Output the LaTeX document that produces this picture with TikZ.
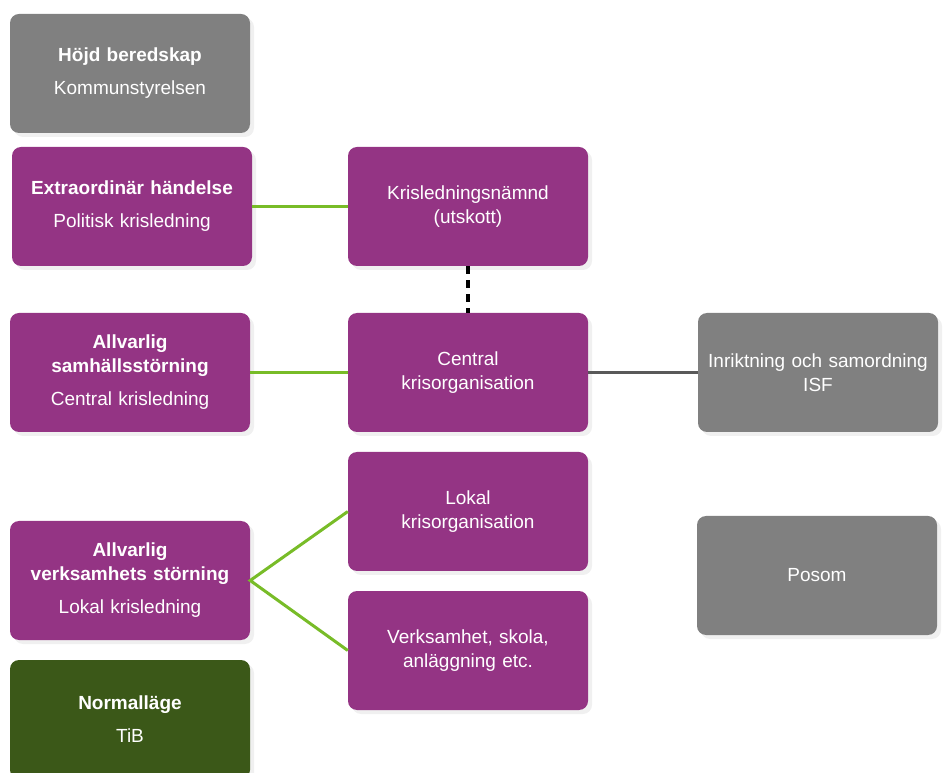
\documentclass[tikz,border=0pt]{standalone}
\usepackage{fontspec}
\setmainfont{Liberation Sans}
\usetikzlibrary{shadows}
\definecolor{lila}{RGB}{148,52,132}
\definecolor{gra}{RGB}{128,128,128}
\definecolor{morkgron}{RGB}{59,88,24}
\definecolor{ljusgron}{RGB}{120,188,40}
\tikzset{
  ruta/.style={rectangle, rounded corners=9pt, minimum width=240pt, minimum height=119pt,
    text=white, align=center, text width=232pt, font=\fontsize{19}{24}\selectfont,
    drop shadow={shadow xshift=4pt, shadow yshift=-4pt, opacity=0.12}},
  gronlinje/.style={draw=ljusgron, line width=3pt}
}
\begin{document}
\begin{tikzpicture}[x=1pt,y=1pt]
\useasboundingbox (0,0) rectangle (951,772);
\node[ruta, fill=gra] (hojd) at (130,698.5) {\textbf{Höjd beredskap}\\[9pt]Kommunstyrelsen};
\node[ruta, fill=lila] (extra) at (132,565.5) {\textbf{Extraordinär händelse}\\[9pt]Politisk krisledning};
\node[ruta, fill=lila] (namnd) at (468,565.5) {Krisledningsnämnd\\(utskott)};
\node[ruta, fill=lila] (samh) at (130,399.5) {\textbf{Allvarlig}\\\textbf{samhällsstörning}\\[9pt]Central krisledning};
\node[ruta, fill=lila] (central) at (468,399.5) {Central\\krisorganisation};
\node[ruta, fill=gra] (isf) at (818,399.5) {Inriktning och samordning\\ISF};
\node[ruta, fill=lila] (lokal) at (468,260.5) {Lokal\\krisorganisation};
\node[ruta, fill=lila] (verks) at (130,191.5) {\textbf{Allvarlig}\\\textbf{verksamhets störning}\\[9pt]Lokal krisledning};
\node[ruta, fill=gra] (posom) at (817,196.5) {Posom};
\node[ruta, fill=lila] (vhet) at (468,121.5) {Verksamhet, skola,\\anläggning etc.};
\node[ruta, fill=morkgron] (normal) at (130,52.5) {\textbf{Normalläge}\\[9pt]TiB};
% linjer
\draw[gronlinje] (extra.east) -- (namnd.west);
\draw[gronlinje] (samh.east) -- (central.west);
\draw[gronlinje] (lokal.west) -- (verks.east) -- (vhet.west);
\draw[line width=4pt, dash pattern=on 8pt off 6pt] (namnd.south) -- (central.north);
\draw[draw=black!65, line width=3pt] (central.east) -- (isf.west);
\end{tikzpicture}
\end{document}
